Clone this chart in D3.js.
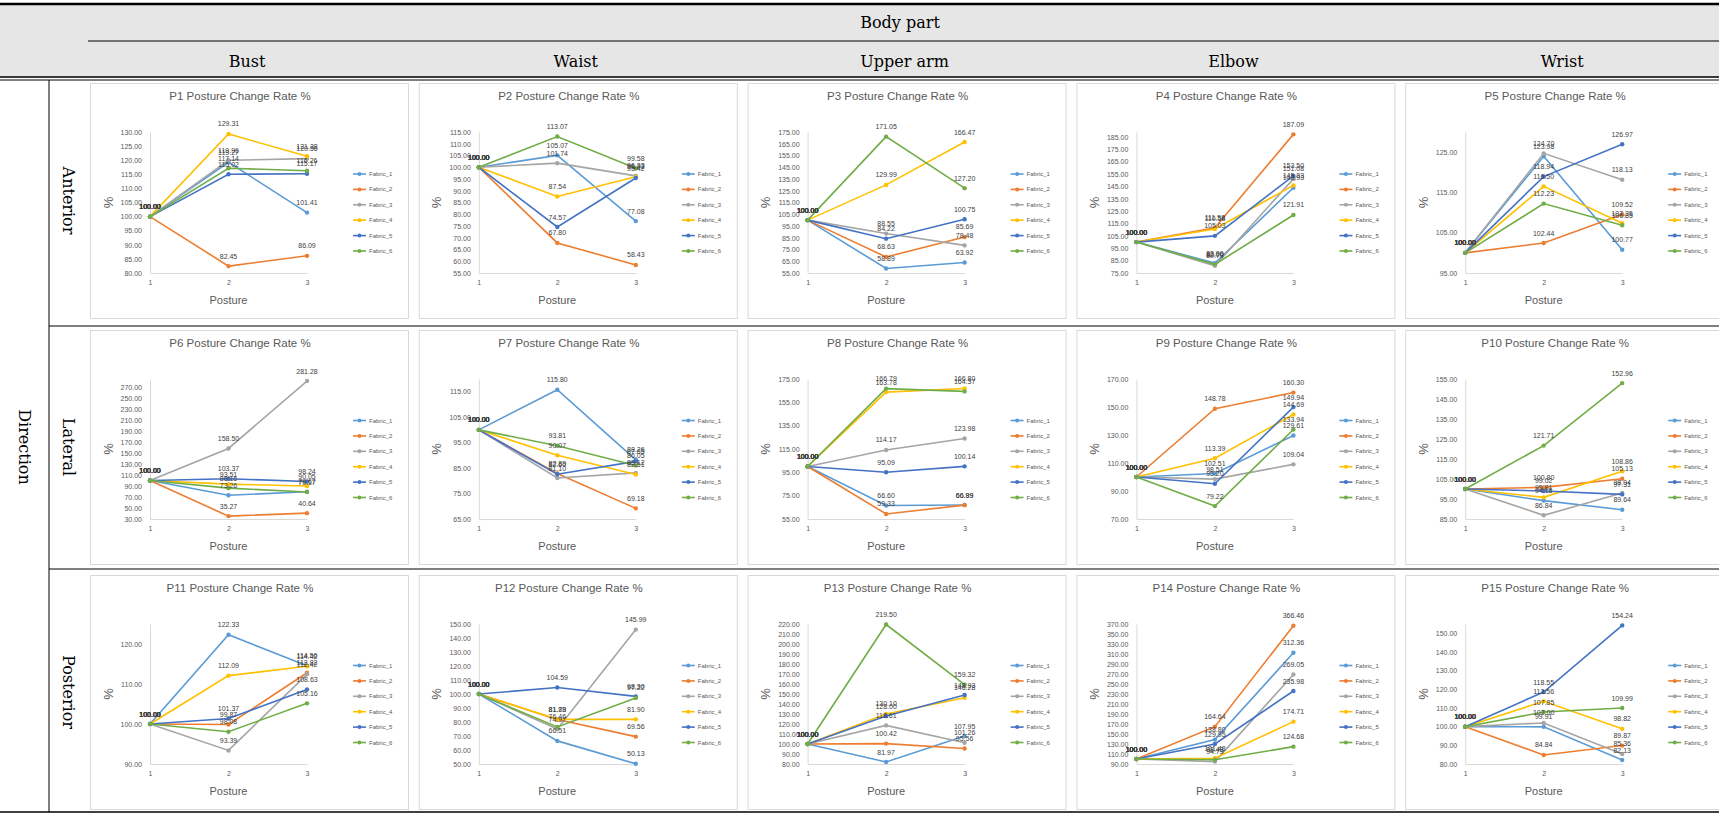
<!DOCTYPE html>
<html><head><meta charset="utf-8">
<script src="https://cdn.jsdelivr.net/npm/d3@7"></script>
<style>body{margin:0;background:#fff} svg{display:block}</style>
</head><body>
<svg id="c" width="1719" height="816"></svg>
<script>
const postures = [1, 2, 3];
const fabrics = ["Fabric_1", "Fabric_2", "Fabric_3", "Fabric_4", "Fabric_5", "Fabric_6"];
const colors = ["#5B9BD5", "#ED7D31", "#A5A5A5", "#FFC000", "#4472C4", "#70AD47"];
const bodyParts = ["Bust", "Waist", "Upper arm", "Elbow", "Wrist"];
const directions = ["Anterior", "Lateral", "Posterior"];
const panelTitles = d3.range(1, 16).map(i => "P" + i + " Posture Change Rate %");

// values: one row per fabric, one value per posture
const P1 = [[100,119.27,101.41],[100,82.45,86.09],[100,119.96,120.56],[100,129.31,121.38],[100,115.02,115.17],[100,117.14,116.26]];
const P2 = [[100,105.07,77.08],[100,67.80,58.43],[100,101.74,96.33],[100,87.54,95.92],[100,74.57,95.42],[100,113.07,99.58]];
const P3 = [[100,58.89,63.92],[100,68.63,85.69],[100,88.55,78.48],[100,129.99,166.47],[100,84.22,100.75],[100,171.05,127.20]];
const P4 = [[100,83.00,143.93],[100,111.58,187.09],[100,80.79,151.08],[100,110.58,145.83],[100,105.03,153.50],[100,82.00,121.91]];
const P5 = [[100,123.98,100.77],[100,102.44,109.52],[100,124.70,118.13],[100,116.50,107.35],[100,118.94,126.97],[100,112.23,106.85]];
const P6 = [[100,73.26,79.67],[100,35.27,40.64],[100,158.50,281.28],[100,93.51,90.05],[100,103.37,98.24],[100,86.16,79.17]];
const P7 = [[100,115.80,88.26],[100,82.89,69.18],[100,81.10,83.12],[100,90.07,82.51],[100,82.60,87.65],[100,93.81,86.05]];
const P8 = [[100,66.60,66.99],[100,59.33,66.89],[100,114.17,123.98],[100,163.78,166.80],[100,95.09,100.14],[100,166.79,164.37]];
const P9 = [[100,102.51,129.61],[100,148.78,160.30],[100,98.51,109.04],[100,113.39,144.69],[100,95.20,149.94],[100,79.22,133.94]];
const P10 = [[100,94.18,89.64],[100,100.80,105.13],[100,86.84,98.04],[100,95.81,108.86],[100,99.02,97.31],[100,121.71,152.96]];
const P11 = [[100,122.33,114.56],[100,99.87,112.82],[100,93.39,112.42],[100,112.09,114.42],[100,101.37,108.63],[100,98.08,105.16]];
const P12 = [[100,66.51,50.13],[100,81.79,69.56],[100,74.97,145.99],[100,81.88,81.90],[100,104.59,98.30],[100,76.46,97.22]];
const P13 = [[100,81.97,107.95],[100,100.42,95.56],[100,118.61,101.26],[100,130.10,146.28],[100,128.00,148.93],[100,219.50,159.32]];
const P14 = [[100,138.80,312.36],[100,164.64,366.46],[100,94.79,269.05],[100,101.48,174.71],[100,129.95,235.98],[100,98.48,124.68]];
const P15 = [[100,99.91,82.13],[100,84.84,89.87],[100,102.00,85.36],[100,113.56,98.82],[100,118.55,154.24],[100,107.85,109.99]];

// y axis settings per panel
const yMin  = [80, 55, 55, 75, 95,   30, 65, 55, 70, 85,   90, 50, 80, 90, 80];
const yMax  = [130,115,175,189,130,  285,120,175,170,155,  125,150,220,370,155];
const yStep = [5, 5, 10, 10, 10,     20, 10, 20, 20, 10,   10, 10, 10, 20, 10];

const panels = [P1,P2,P3,P4,P5,P6,P7,P8,P9,P10,P11,P12,P13,P14,P15];

const svg = d3.select("#c");
const W = 1719, H = 816;
const sans = "'Liberation Sans', Arial, sans-serif";
const serif = "'DejaVu Serif', 'Liberation Serif', serif";
const txt = "#595959";

// ---------- table frame ----------
svg.append("rect").attr("x",0).attr("y",5).attr("width",W).attr("height",73).attr("fill","#e7e6e6");
const line = (x1,y1,x2,y2,w) => svg.append("line").attr("x1",x1).attr("y1",y1).attr("x2",x2).attr("y2",y2)
  .attr("stroke","#000").attr("stroke-width",w);
line(0,4,W,4,2.5);
line(88,41,W,41,1);
line(0,77,W,77,1.5);
line(0,80,W,80,1);
line(49,80,49,812,1);
line(49,326,W,326,1);
line(49,569,W,569,1);
line(0,812,W,812,1.5);

svg.append("text").attr("x",900).attr("y",22).attr("text-anchor","middle").attr("dominant-baseline","central")
  .attr("font-family",serif).attr("font-size",16).text("Body part");

const colLeft = i => 90 + i * 328.8;
const panelW = 318;
const rowTop = [83, 330, 575];
const rowBot = [318, 564, 809];

bodyParts.forEach((b,i) => {
  svg.append("text").attr("x", colLeft(i) + panelW/2 - 2).attr("y",61).attr("text-anchor","middle")
    .attr("dominant-baseline","central").attr("font-family",serif).attr("font-size",16).text(b);
});
svg.append("text").attr("transform","translate(24,447) rotate(90)").attr("text-anchor","middle")
  .attr("dominant-baseline","central").attr("font-family",serif).attr("font-size",16).text("Direction");
directions.forEach((d,r) => {
  const cy = (rowTop[r] + rowBot[r]) / 2;
  svg.append("text").attr("transform",`translate(68,${cy}) rotate(90)`).attr("text-anchor","middle")
    .attr("dominant-baseline","central").attr("font-family",serif).attr("font-size",16).text(d);
});

// ---------- panels ----------
panels.forEach((data, k) => {
  const r = Math.floor(k / 5), c = k % 5;
  const px = colLeft(c), py = rowTop[r], ph = rowBot[r] - rowTop[r];
  const g = svg.append("g").attr("transform", `translate(${px},${py})`);
  g.append("rect").attr("x",0.5).attr("y",0.5).attr("width",panelW).attr("height",ph)
    .attr("fill","#fff").attr("stroke","#d9d9d9");

  const pl = 60, pw = 157, pt = 49, pb = ph - 45;
  const x = d3.scalePoint().domain(postures).range([pl, pl + pw]);
  const y = d3.scaleLinear().domain([yMin[k], yMax[k]]).range([pb, pt]);

  g.append("text").attr("x", 150).attr("y", 13).attr("text-anchor","middle").attr("dominant-baseline","central")
    .attr("font-family",sans).attr("font-size",11.5).attr("fill",txt).text(panelTitles[k]);

  const ticks = d3.range(yMin[k], yMax[k] + 0.001, yStep[k]);
  const ya = g.append("g").attr("transform",`translate(${pl},0)`)
    .call(d3.axisLeft(y).tickValues(ticks).tickFormat(d3.format(".2f")).tickSize(0).tickPadding(8));
  ya.select(".domain").attr("stroke","#d9d9d9");
  ya.selectAll("text").attr("font-family",sans).attr("font-size",7).attr("fill",txt);

  const xa = g.append("g").attr("transform",`translate(0,${pb})`)
    .call(d3.axisBottom(x).tickSize(0).tickPadding(7));
  xa.select(".domain").attr("stroke","#d9d9d9");
  xa.selectAll("text").attr("font-family",sans).attr("font-size",7).attr("fill",txt);

  g.append("text").attr("x", pl + pw/2).attr("y", pb + 27).attr("text-anchor","middle").attr("dominant-baseline","central")
    .attr("font-family",sans).attr("font-size",11).attr("fill",txt).text("Posture");
  g.append("text").attr("transform",`translate(${pl - 42},${(pt+pb)/2}) rotate(-90)`).attr("text-anchor","middle")
    .attr("dominant-baseline","central").attr("font-family",sans).attr("font-size",13).attr("fill",txt).text("%");

  const ln = d3.line().x((d,i) => x(postures[i])).y(d => y(d));
  data.forEach((s, si) => {
    g.append("path").attr("d", ln(s)).attr("fill","none").attr("stroke",colors[si]).attr("stroke-width",1.6);
    g.selectAll(null).data(s).enter().append("circle")
      .attr("cx",(d,i) => x(postures[i])).attr("cy", d => y(d)).attr("r",2.2).attr("fill",colors[si]);
  });
  data.forEach((s, si) => {
    g.selectAll(null).data(s).enter().append("text")
      .attr("x",(d,i) => x(postures[i])).attr("y", d => y(d) - 10).attr("text-anchor","middle")
      .attr("dominant-baseline","central").attr("font-family",sans).attr("font-size",7).attr("fill","#404040")
      .text(d => d3.format(".2f")(d));
  });

  // legend
  const lx = 263, lcy = (pt + pb) / 2 + 10, sp = 15.4;
  fabrics.forEach((f, si) => {
    const ly = lcy + (si - 2.5) * sp;
    g.append("line").attr("x1",lx).attr("x2",lx+13).attr("y1",ly).attr("y2",ly).attr("stroke",colors[si]).attr("stroke-width",1.6);
    g.append("circle").attr("cx",lx+6.5).attr("cy",ly).attr("r",2).attr("fill",colors[si]);
    g.append("text").attr("x",lx+16).attr("y",ly).attr("dominant-baseline","central")
      .attr("font-family",sans).attr("font-size",6).attr("fill",txt).text(f);
  });
});
</script>
</body></html>
